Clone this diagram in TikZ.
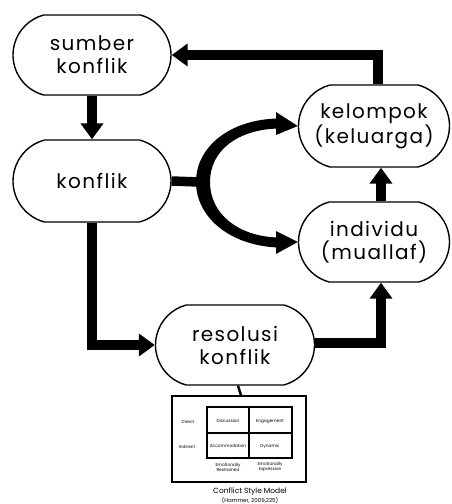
\documentclass[tikz,border=0pt]{standalone}
\usepackage{fontspec}
\setmainfont{Poppins}[LetterSpace=7]
\newfontfamily\smallfont{Poppins}
\usetikzlibrary{arrows.meta,positioning,calc,shapes.misc}
\tikzset{
  flowbox/.style={draw, line width=1.4pt, rounded rectangle, rounded rectangle arc length=150, align=center,
     font=\fontsize{20}{23}\selectfont, inner sep=0pt},
  thickarrow/.style={line width=9.5pt, line join=miter, -{Triangle[length=16pt,width=22pt]}},
  thickline/.style={line width=9.5pt, line join=miter},
  tinytext/.style={font=\smallfont\fontsize{4.3}{4.8}\selectfont, align=center, inner sep=0pt},
}
\begin{document}
\begin{tikzpicture}[x=1pt,y=-1pt]
\useasboundingbox (0,0) rectangle (452,504);
\node[flowbox, minimum width=158pt, minimum height=80pt] (sumber) at (92,55) {sumber\\konflik};
\node[flowbox, minimum width=158pt, minimum height=82pt] (konflik) at (92,181) {konflik};
\node[flowbox, minimum width=151pt, minimum height=82pt] (kelompok) at (374,126) {kelompok\\(keluarga)};
\node[flowbox, minimum width=151pt, minimum height=80pt] (individu) at (374,242) {individu\\(muallaf)};
\node[flowbox, minimum width=159pt, minimum height=80pt] (resolusi) at (235,345) {resolusi\\konflik};

% straight arrows
\draw[thickarrow] (sumber.south) -- (konflik.north);
\draw[thickarrow] ([xshift=4pt]kelompok.north) |- (sumber.east);
\draw[thickarrow] ([xshift=7pt]individu.north) -- ([xshift=7pt]kelompok.south);
\draw[thickarrow] (konflik.south) |- (resolusi.west);
\draw[thickarrow] ([yshift=2pt]resolusi.east) -| ([xshift=7pt]individu.south);

% crescent fork
\coordinate (fork) at (199,182);
\draw[thickline] (konflik.east) -- (fork);
\fill (277,118.5) .. controls (228,120) and (196,148) .. (196,182)
      .. controls (196,216) and (228,245) .. (277,247.5)
      -- (277,237.5) .. controls (238,236) and (210,214) .. (210,182)
      .. controls (210,150) and (238,130) .. (277,128.5) -- cycle;
\fill (276,112) -- (kelompok.west) -- (276,135) -- cycle;
\fill (276,231) -- (individu.west) -- (276,254) -- cycle;

% table
\node[draw, line width=1.3pt, minimum width=134pt, minimum height=86pt, inner sep=0pt] (table) at (239,439) {};
\draw[line width=2.5pt] ([xshift=3pt]resolusi.south) -- ([xshift=2pt]table.north);
\draw[line width=1.8pt] (207,407) rectangle (292,458);
\draw[line width=1.8pt] (249,407) -- (249,458);
\draw[line width=1.8pt] (207,433) -- (292,433);
\node[tinytext] (direct) at (188,422) {Direct};
\node[tinytext] (indirect) at (187,447) {Indirect};
\node[tinytext] (disc) at (228,421) {Discussion};
\node[tinytext] (eng) at (270,422) {Engagement};
\node[tinytext] (acc) at (228,446) {Accommodation};
\node[tinytext] (dyn) at (270,446) {Dynamic};
\node[tinytext] (restr) at (228,467) {Emotionally\\Restrained};
\node[tinytext] (expr) at (270,467) {Emotionally\\Expressive};
\node[font=\smallfont\fontsize{7.5}{8}\selectfont, inner sep=0pt] (cap) at (250,492) {Conflict Style Model};
\node[font=\smallfont\fontsize{5.5}{6}\selectfont, inner sep=0pt] (cite) at (250,500) {(Hammer, 2009,225)};
\end{tikzpicture}
\end{document}
